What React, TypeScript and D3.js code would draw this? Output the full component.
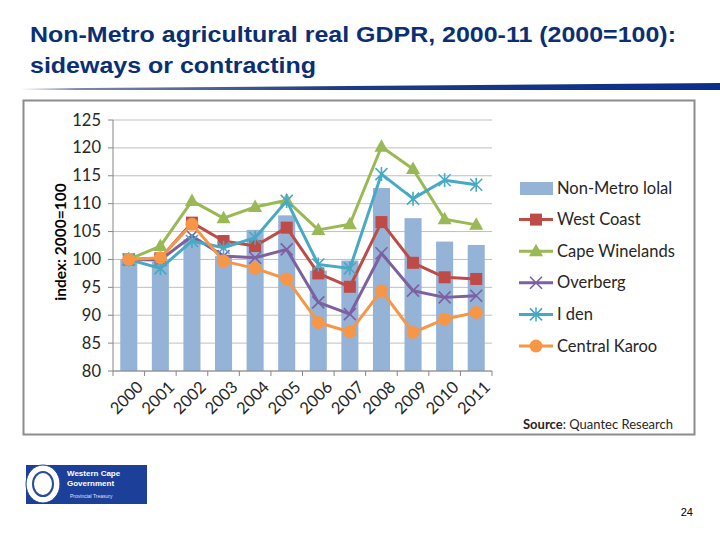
import React from 'react';
import * as d3 from 'd3';

const years = ['2000', '2001', '2002', '2003', '2004', '2005', '2006', '2007', '2008', '2009', '2010', '2011'];
const nonMetroTotal = [100, 99.6, 103.6, 100.6, 105.3, 107.9, 98, 99.8, 112.8, 107.4, 103.2, 102.6];
const westCoast = [100, 100.2, 106.6, 103.3, 102.4, 105.7, 97.5, 95.1, 106.7, 99.4, 96.8, 96.5];
const capeWinelands = [100, 102.4, 110.5, 107.4, 109.4, 110.6, 105.3, 106.3, 120.2, 116.2, 107.2, 106.2];
const overberg = [100, 99.9, 104.2, 100.6, 100.3, 101.8, 92.3, 90.2, 101.1, 94.4, 93.2, 93.5];
const eden = [100, 98.4, 103.3, 102.1, 103.9, 110.5, 99.1, 98.4, 115.3, 110.9, 114.2, 113.4];
const centralKaroo = [100, 100.3, 106.3, 99.7, 98.4, 96.5, 88.7, 87.0, 94.4, 86.9, 89.3, 90.5];
const yTicks = [80, 85, 90, 95, 100, 105, 110, 115, 120, 125];

type Marker = 'square' | 'triangle' | 'x' | 'star' | 'circle';
const lineSeries: { name: string; values: number[]; color: string; marker: Marker }[] = [
  { name: 'West Coast', values: westCoast, color: '#be4b48', marker: 'square' },
  { name: 'Cape Winelands', values: capeWinelands, color: '#98b954', marker: 'triangle' },
  { name: 'Overberg', values: overberg, color: '#7d60a0', marker: 'x' },
  { name: 'I den', values: eden, color: '#46aac5', marker: 'star' },
  { name: 'Central Karoo', values: centralKaroo, color: '#f79646', marker: 'circle' },
];

const BAR = '#95b3d7';
const FONT = 'Lato, "Open Sans", sans-serif';
const ARIAL = '"Liberation Sans", Arial, sans-serif';

function MarkerShape({ kind, x, y, color }: { kind: Marker; x: number; y: number; color: string }) {
  switch (kind) {
    case 'square':
      return <rect x={x - 6} y={y - 6} width={12} height={12} fill={color} />;
    case 'triangle':
      return <path d={`M${x},${y - 7.5}L${x + 7},${y + 5}L${x - 7},${y + 5}Z`} fill={color} />;
    case 'x':
      return (
        <path d={`M${x - 6},${y - 6}L${x + 6},${y + 6}M${x - 6},${y + 6}L${x + 6},${y - 6}`}
          stroke={color} strokeWidth={1.6} fill="none" />
      );
    case 'star':
      return (
        <path
          d={`M${x - 6},${y - 6}L${x + 6},${y + 6}M${x - 6},${y + 6}L${x + 6},${y - 6}M${x},${y - 7}L${x},${y + 7}`}
          stroke={color} strokeWidth={1.6} fill="none" />
      );
    default:
      return <circle cx={x} cy={y} r={6.5} fill={color} />;
  }
}

export default function App() {
  const x = d3.scaleBand().domain(years).range([113, 492]).paddingInner(0.46).paddingOuter(0.23);
  const band = d3.scaleBand().domain(years).range([113, 492]);
  const y = d3.scaleLinear().domain([80, 125]).range([371, 120]);
  const line = d3.line<number>()
    .x((_, i) => (band(years[i]) as number) + band.bandwidth() / 2)
    .y((d) => y(d));

  const legendRows = ['Non-Metro lolal', ...lineSeries.map((s) => s.name)];

  return (
    <svg width={720} height={540} style={{ position: 'absolute', left: 0, top: 0, background: '#fff' }}>
      <defs>
        <linearGradient id="swoosh" x1="0" x2="1" y1="0" y2="0">
          <stop offset="0" stopColor="#ffffff" />
          <stop offset="0.08" stopColor="#7f8aa8" />
          <stop offset="0.45" stopColor="#1d3c86" />
          <stop offset="1" stopColor="#0a2f8a" />
        </linearGradient>
      </defs>

      {/* heading */}
      <g fontFamily={ARIAL} fontSize={22} fontWeight="bold" fill="#0b2f74">
        <text x={30} y={42} textLength={646} lengthAdjust="spacingAndGlyphs">
          Non-Metro agricultural real GDPR, 2000-11 (2000=100):
        </text>
        <text x={30} y={73} textLength={286} lengthAdjust="spacingAndGlyphs">sideways or contracting</text>
      </g>
      <path d="M20,88.5L720,83L720,90L20,90Z" fill="url(#swoosh)" />

      {/* chart frame */}
      <rect x={23.5} y={100.5} width={671} height={334} fill="#fff" stroke="#8c8c8c" strokeWidth={2} />

      {/* gridlines */}
      {yTicks.map((t) => (
        <line key={t} x1={113} x2={492} y1={y(t)} y2={y(t)} stroke="#bfbfbf" strokeWidth={1} />
      ))}

      {/* bars */}
      {nonMetroTotal.map((v, i) => (
        <rect key={years[i]} x={x(years[i])} y={y(v)} width={x.bandwidth()} height={y(80) - y(v)} fill={BAR} />
      ))}

      {/* axes */}
      <line x1={113} x2={113} y1={120} y2={371} stroke="#868686" />
      {yTicks.map((t) => (
        <line key={t} x1={108} x2={113} y1={y(t)} y2={y(t)} stroke="#868686" />
      ))}
      <line x1={113} x2={492} y1={371} y2={371} stroke="#868686" />
      {years.concat(['end']).map((yr, i) => {
        const px = 113 + band.bandwidth() * i;
        return <line key={yr} x1={px} x2={px} y1={371} y2={376} stroke="#868686" />;
      })}

      <g fontFamily={FONT} fontSize={16.5} fill="#262626">
        {yTicks.map((t) => (
          <text key={t} x={101} y={y(t) + 5.5} textAnchor="end">{t}</text>
        ))}
        {years.map((yr) => {
          const cx = (band(yr) as number) + band.bandwidth() / 2 + 7;
          return (
            <text key={yr} transform={`translate(${cx},${380}) rotate(-45)`} textAnchor="end" dy="0.7em">{yr}</text>
          );
        })}
      </g>
      <text transform="translate(66,242) rotate(-90)" textAnchor="middle" fontFamily={FONT}
        fontWeight="bold" fontSize={15.5} fill="#000">index: 2000=100</text>

      {/* series lines and markers */}
      {lineSeries.map((s) => (
        <g key={s.name}>
          <path d={line(s.values) as string} fill="none" stroke={s.color} strokeWidth={3} strokeLinejoin="round" />
          {s.values.map((v, i) => (
            <MarkerShape key={i} kind={s.marker} x={(band(years[i]) as number) + band.bandwidth() / 2} y={y(v)} color={s.color} />
          ))}
        </g>
      ))}

      {/* legend */}
      <g fontFamily={FONT} fontSize={16.5} fill="#262626">
        {legendRows.map((name, i) => {
          const ly = 188 + i * 31.6;
          const s = i > 0 ? lineSeries[i - 1] : null;
          return (
            <g key={name}>
              {s ? (
                <>
                  <line x1={519} x2={553} y1={ly} y2={ly} stroke={s.color} strokeWidth={3} />
                  <MarkerShape kind={s.marker} x={536} y={ly} color={s.color} />
                </>
              ) : (
                <rect x={520} y={ly - 6} width={33} height={13} fill={BAR} />
              )}
              <text x={557} y={ly + 5.5}>{name}</text>
            </g>
          );
        })}
        <text x={523} y={429} fontSize={13}>
          <tspan fontWeight="bold">Source</tspan>: Quantec Research
        </text>
      </g>

      {/* footer badge */}
      <g>
        <rect x={26} y={465} width={121} height={39} fill="#1c3f9a" />
        <ellipse cx={43} cy={484} rx={17} ry={19} fill="#fff" stroke="#1c3f9a" />
        <ellipse cx={43} cy={484} rx={10} ry={12} fill="none" stroke="#2a4a9a" strokeWidth={2} />
        <text x={67} y={476} fontFamily={ARIAL} fontSize={8} fontWeight="bold" fill="#fff">Western Cape</text>
        <text x={67} y={486} fontFamily={ARIAL} fontSize={8} fontWeight="bold" fill="#fff">Government</text>
        <text x={70} y={498} fontFamily={ARIAL} fontSize={5} fill="#dfe6f5">Provincial Treasury</text>
      </g>
      <text x={693} y={516} textAnchor="end" fontFamily={ARIAL} fontSize={11} fill="#000">24</text>
    </svg>
  );
}
